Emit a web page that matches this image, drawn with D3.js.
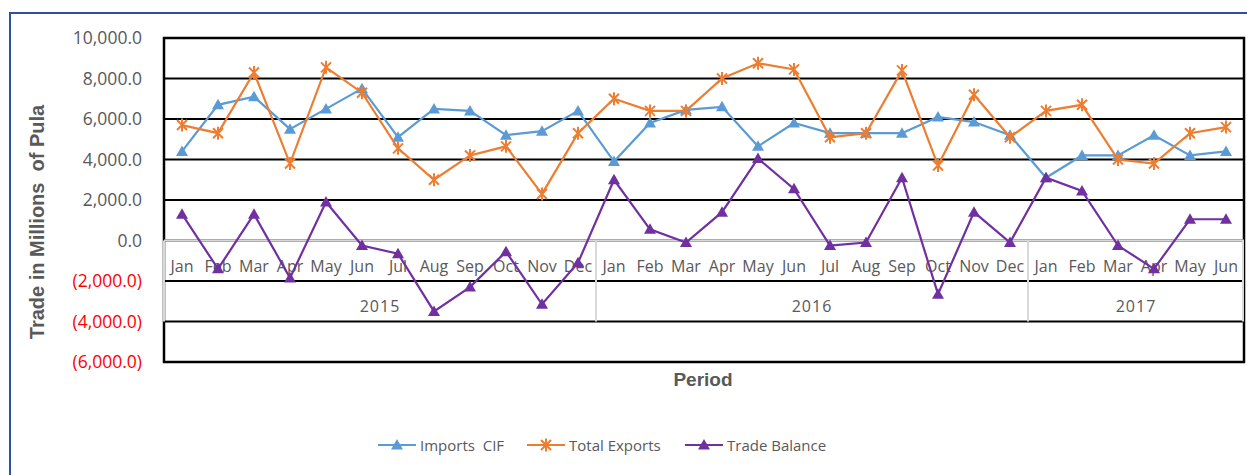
<!DOCTYPE html>
<html>
<head>
<meta charset="utf-8">
<script src="https://cdn.jsdelivr.net/npm/d3@7"></script>
<style>
  body { margin: 0; background: #fff; }
  svg { display: block; font-family: "Open Sans", sans-serif; }
  text { white-space: pre; }
</style>
</head>
<body>
<div id="chart"></div>
<script>
// data
const months = ["Jan","Feb","Mar","Apr","May","Jun","Jul","Aug","Sep","Oct","Nov","Dec",
                "Jan","Feb","Mar","Apr","May","Jun","Jul","Aug","Sep","Oct","Nov","Dec",
                "Jan","Feb","Mar","Apr","May","Jun"];
const years = [
  {label: "2015", start: 0, end: 12},
  {label: "2016", start: 12, end: 24},
  {label: "2017", start: 24, end: 30}
];
const importsCIF = [4400, 6700, 7100, 5500, 6500, 7500, 5100, 6500, 6400, 5200, 5400, 6400,
                    3900, 5800, 6450, 6600, 4650, 5800, 5300, 5300, 5300, 6100, 5850, 5200,
                    3100, 4200, 4200, 5200, 4200, 4400];
const totalExports = [5700, 5300, 8300, 3800, 8550, 7300, 4550, 3000, 4200, 4650, 2300, 5300,
                      7000, 6400, 6400, 8000, 8750, 8450, 5100, 5300, 8400, 3700, 7200, 5100,
                      6400, 6700, 4000, 3800, 5300, 5600];
const tradeBalance = [1300, -1400, 1300, -1850, 1900, -250, -650, -3500, -2300, -550, -3150, -1100,
                      3000, 550, -100, 1400, 4050, 2550, -250, -100, 3100, -2650, 1400, -100,
                      3100, 2450, -250, -1400, 1050, 1050];
const yTicks = [-6000, -4000, -2000, 0, 2000, 4000, 6000, 8000, 10000];

const W = 1247, H = 475;
const plot = {left: 164, right: 1244, top: 38, bottom: 362};
const grey = "#595959";

const svg = d3.select("#chart").append("svg")
  .attr("width", W).attr("height", H);

// outer chart frame
svg.append("rect")
  .attr("x", 10).attr("y", 13).attr("width", 1300).attr("height", 500)
  .attr("fill", "none").attr("stroke", "#2F4F9F").attr("stroke-width", 2);

const x = d3.scaleBand()
  .domain(d3.range(months.length))
  .range([plot.left, plot.right]);
const cx = i => x(i) + x.bandwidth() / 2;

const y = d3.scaleLinear()
  .domain([-6000, 10000])
  .range([plot.bottom, plot.top]);

// gridlines
svg.append("g")
  .selectAll("line")
  .data(yTicks)
  .join("line")
  .attr("x1", plot.left).attr("x2", plot.right)
  .attr("y1", d => y(d)).attr("y2", d => y(d))
  .attr("stroke", "#000").attr("stroke-width", 2);

svg.append("rect")
  .attr("x", plot.left).attr("y", plot.top)
  .attr("width", plot.right - plot.left).attr("height", plot.bottom - plot.top)
  .attr("fill", "none").attr("stroke", "#000").attr("stroke-width", 2.5);

// y axis labels
const fmt = d3.format(",.1f");
const yAxis = svg.append("g")
  .attr("transform", `translate(${plot.left - 22},0)`)
  .call(d3.axisLeft(y).tickValues(yTicks).tickSize(0)
    .tickFormat(d => d < 0 ? "(" + fmt(-d) + ")" : fmt(d)));
yAxis.select(".domain").remove();
yAxis.selectAll("text")
  .attr("x", 0)
  .style("font-size", "17.5px")
  .style("font-family", "'Open Sans', sans-serif")
  .attr("fill", d => d < 0 ? "#FF0000" : grey);

// category table (months + years) under zero line
const y0 = y(0);
const rowH = y(-2000) - y(0);
const table = svg.append("g");
table.append("line")
  .attr("x1", plot.left).attr("x2", plot.right)
  .attr("y1", y0).attr("y2", y0)
  .attr("stroke", "#d9d9d9").attr("stroke-width", 2);
table.selectAll("line.sep")
  .data([0, ...years.map(d => d.end)])
  .join("line")
  .attr("class", "sep")
  .attr("x1", d => d === months.length ? plot.right - 1 : x(d))
  .attr("x2", d => d === months.length ? plot.right - 1 : x(d))
  .attr("y1", y0).attr("y2", y0 + 2 * rowH)
  .attr("stroke", "#d9d9d9").attr("stroke-width", 2);
table.selectAll("text.month")
  .data(months)
  .join("text")
  .attr("class", "month")
  .attr("x", (d, i) => cx(i))
  .attr("y", y0 + rowH / 2 + 11)
  .attr("text-anchor", "middle")
  .attr("fill", grey)
  .style("font-size", "16px")
  .text(d => d);
table.selectAll("text.year")
  .data(years)
  .join("text")
  .attr("class", "year")
  .attr("x", d => (x(d.start) + (d.end === months.length ? plot.right : x(d.end))) / 2)
  .attr("y", y0 + rowH * 1.5 + 11)
  .attr("text-anchor", "middle")
  .attr("fill", grey)
  .style("font-size", "16px")
  .style("letter-spacing", "1px")
  .text(d => d.label);

// axis titles
svg.append("text")
  .attr("transform", `translate(44,${(plot.top + plot.bottom) / 2 + 22}) rotate(-90)`)
  .attr("text-anchor", "middle")
  .attr("fill", grey)
  .style("font-size", "20px").style("font-weight", "bold")
  .style("font-family", "'Liberation Sans', sans-serif")
  .text("Trade in Millions  of Pula");

svg.append("text")
  .attr("x", 703).attr("y", 386)
  .attr("text-anchor", "middle")
  .attr("fill", grey)
  .style("font-size", "19px").style("font-weight", "bold")
  .style("font-family", "'Liberation Sans', sans-serif")
  .text("Period");

// series
const series = [
  {name: "Imports  CIF", values: importsCIF, color: "#5B9BD5", marker: "tri"},
  {name: "Total Exports", values: totalExports, color: "#ED7D31", marker: "star"},
  {name: "Trade Balance", values: tradeBalance, color: "#7030A0", marker: "tri"}
];

const triPath = "M0,-6L6,4.5L-6,4.5Z";
const starPath = "M-5,-5L5,5M-5,5L5,-5M0,-6.5L0,6.5";

const line = d3.line().x((d, i) => cx(i)).y(d => y(d));

const drawMarker = (sel, s) => {
  if (s.marker === "tri") {
    sel.append("path").attr("d", triPath).attr("fill", s.color);
  } else {
    sel.append("path").attr("d", starPath).attr("fill", "none")
      .attr("stroke", s.color).attr("stroke-width", 2);
  }
};

series.forEach(s => {
  const g = svg.append("g");
  g.append("path")
    .datum(s.values)
    .attr("d", line)
    .attr("fill", "none")
    .attr("stroke", s.color)
    .attr("stroke-width", 2.2);
  g.selectAll("g.pt")
    .data(s.values)
    .join("g")
    .attr("class", "pt")
    .attr("transform", (d, i) => `translate(${cx(i)},${y(d)})`)
    .each(function () { drawMarker(d3.select(this), s); });
});

// legend
const legendX = [378, 527, 685];
const legend = svg.append("g").attr("transform", "translate(0,445)");
series.forEach((s, i) => {
  const g = legend.append("g").attr("transform", `translate(${legendX[i]},0)`);
  g.append("line").attr("x1", 0).attr("x2", 38).attr("y1", 0).attr("y2", 0)
    .attr("stroke", s.color).attr("stroke-width", 2.2);
  const m = g.append("g").attr("transform", "translate(19,0)");
  drawMarker(m, s);
  g.append("text")
    .attr("x", 42).attr("y", 6)
    .attr("fill", grey)
    .style("font-size", "15px")
    .text(s.name);
});
</script>
</body>
</html>
